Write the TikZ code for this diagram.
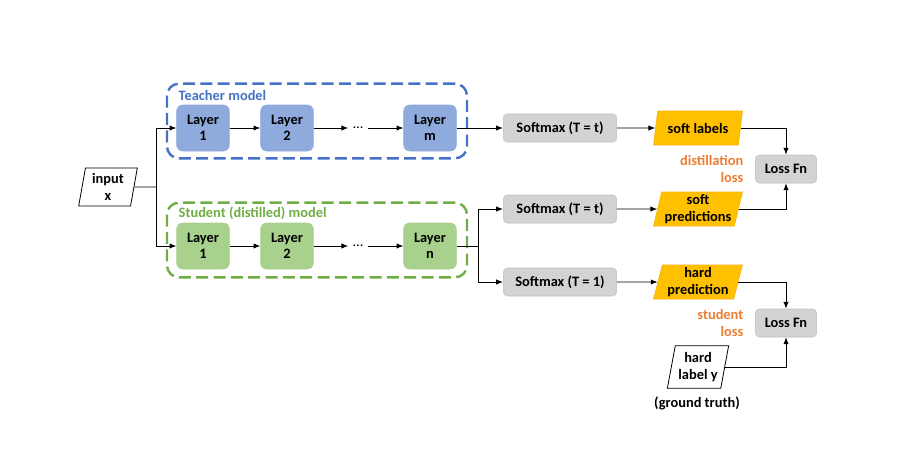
\documentclass[tikz,border=0pt]{standalone}
\usepackage{fontspec}
\setmainfont{Carlito}
\usetikzlibrary{arrows.meta,positioning,shapes.geometric}
\definecolor{TeachBlue}{HTML}{4472C4}
\definecolor{TeachFill}{HTML}{8FAADC}
\definecolor{StudGreen}{HTML}{70AD47}
\definecolor{StudFill}{HTML}{A9D18E}
\definecolor{Grey}{HTML}{D3D3D3}
\definecolor{Gold}{HTML}{FFC000}
\definecolor{Flame}{HTML}{ED7D31}
\tikzset{
  every node/.style={font=\fontsize{10.8}{12.4}\selectfont\bfseries},
  arr/.style={-{Latex[length=1.8mm,width=1.4mm]},line width=0.7pt},
  teachlayer/.style={draw=TeachBlue!60,fill=TeachFill,rounded corners=4.5pt,minimum width=39.5pt,minimum height=34.5pt,align=center,inner sep=1pt},
  studlayer/.style={draw=StudGreen!60,fill=StudFill,rounded corners=4.5pt,minimum width=39.5pt,minimum height=34.5pt,align=center,inner sep=1pt},
  groupbox/.style={rounded corners=9pt,line width=1.8pt,dash pattern=on 9pt off 4pt,minimum width=225pt,minimum height=56pt},
  softbox/.style={draw=black!25,fill=Grey,rounded corners=3pt,minimum width=85pt,minimum height=21pt,inner sep=1pt},
  lossbox/.style={draw=black!25,fill=Grey,rounded corners=3pt,minimum width=46pt,minimum height=21pt,inner sep=1pt},
  goldpar/.style={trapezium,trapezium stretches=true,trapezium left angle=76,trapezium right angle=104,draw=Gold!75!Flame,fill=Gold,minimum width=67pt,minimum height=25.5pt,align=center,inner sep=1pt},
  whitepar/.style={trapezium,trapezium stretches=true,draw,fill=white,line width=0.6pt,align=center,inner sep=1pt},
  orangetext/.style={text=Flame,align=right,anchor=east}
}

\begin{document}
\begin{tikzpicture}[x=0.75pt,y=-0.75pt]
  \useasboundingbox (0,0) rectangle (924,472);
  % model groups
  \node[groupbox,draw=TeachBlue] (teacher) at (317,121) {};
  \node[text=TeachBlue,anchor=west] (tlabel) at (174,95) {Teacher model};
  \node[groupbox,draw=StudGreen] (student) at (317,240) {};
  \node[text=StudGreen,anchor=west] (slabel) at (174,213) {Student (distilled) model};
  % teacher layers
  \node[teachlayer] (t1) at (203,128) {Layer\\1};
  \node[teachlayer] (t2) at (287,128) {Layer\\2};
  \node (tdots) at (358,128) {\normalfont\ldots};
  \node[teachlayer] (tm) at (430,128) {Layer\\m};
  \draw[arr] (t1) -- (t2);\draw[arr] (t2) -- (tdots);\draw[arr] (tdots) -- (tm);
  % student layers
  \node[studlayer] (s1) at (203,246) {Layer\\1};
  \node[studlayer] (s2) at (287,246) {Layer\\2};
  \node (sdots) at (358,246) {\normalfont\ldots};
  \node[studlayer] (sn) at (430,246) {Layer\\n};
  \draw[arr] (s1) -- (s2);\draw[arr] (s2) -- (sdots);\draw[arr] (sdots) -- (sn);
  % input
  \node[whitepar,trapezium left angle=80,trapezium right angle=100,minimum width=44pt,minimum height=28.5pt] (input) at (108,187) {input\\x};
  \coordinate (split) at (156,187);
  \draw[line width=0.7pt] (input.east) -- (split);
  \draw[arr] (split) |- (t1);
  \draw[arr] (split) |- (s1);
  % softmax
  \node[softbox] (sm1) at (560,128) {Softmax (T = t)};
  \node[softbox] (sm2) at (560,209) {Softmax (T = t)};
  \node[softbox] (sm3) at (560,282) {Softmax (T = 1)};
  \draw[arr] (tm) -- (sm1);
  \coordinate (fork) at (478,246);
  \draw[line width=0.7pt] (sn) -- (fork);
  \draw[arr] (fork) |- (sm2);
  \draw[arr] (fork) |- (sm3);
  % outputs
  \node[goldpar] (softlab) at (698,128) {soft labels};
  \node[goldpar] (softpred) at (698,209) {soft\\predictions};
  \node[goldpar] (hardpred) at (698,282) {hard\\prediction};
  \draw[arr] (sm1) -- (softlab);
  \draw[arr] (sm2) -- (softpred);
  \draw[arr] (sm3) -- (hardpred);
  % losses
  \node[lossbox] (loss1) at (786,169) {Loss Fn};
  \node[lossbox] (loss2) at (786,323) {Loss Fn};
  \node[orangetext] (distil) at (748,169) {distillation\\loss};
  \node[orangetext] (studloss) at (748,323) {student\\loss};
  \draw[arr] (softlab.east) -| (loss1);
  \draw[arr] (softpred.east) -| (loss1);
  \draw[arr] (hardpred.east) -| (loss2);
  \node[whitepar,trapezium left angle=77,trapezium right angle=103,minimum width=46pt,minimum height=32pt] (hardlab) at (698,367) {hard\\label y};
  \node (truth) at (697,403) {(ground truth)};
  \draw[arr] (hardlab.east) -| (loss2);
\end{tikzpicture}
\end{document}
